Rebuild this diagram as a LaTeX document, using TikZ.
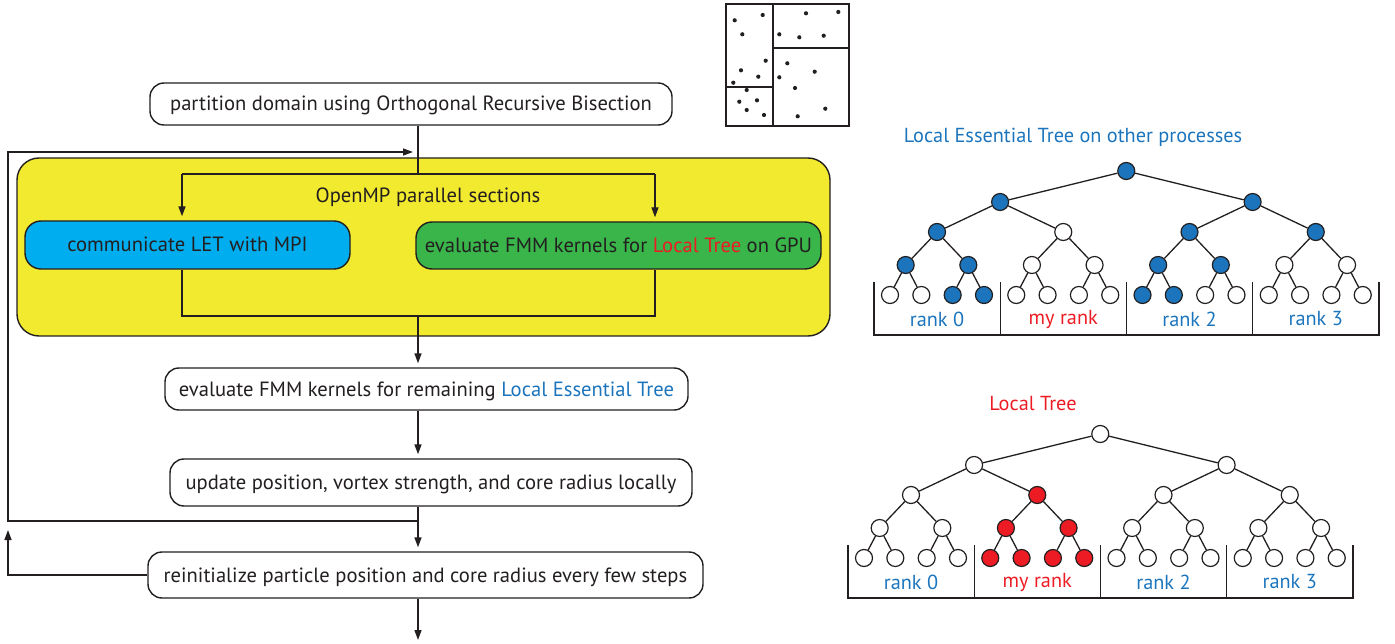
\documentclass[tikz,border=0pt]{standalone}
\usepackage{fontspec}
\setmainfont{PT Sans}
\usetikzlibrary{arrows.meta}
\definecolor{ink}{HTML}{231F20}
\definecolor{ylw}{HTML}{F2EA2E}
\definecolor{cyanbox}{HTML}{00AEEF}
\definecolor{grnbox}{HTML}{39B54A}
\definecolor{bluet}{HTML}{1C75BC}
\definecolor{redt}{HTML}{ED1C24}
\tikzset{
 txt/.style={font=\fontsize{20.6}{24}\selectfont, text=ink},
 flow/.style={txt, draw=ink, line width=1.4pt, rounded corners=14pt, minimum height=42pt, inner sep=0pt, text height=14pt, text depth=0pt},
 conn/.style={draw=ink, line width=1.4pt},
 arr/.style={conn, -{Triangle[length=10pt,width=7pt]}, shorten >=4pt},
 tn/.style={circle, draw=ink, line width=1.2pt, minimum size=17pt, inner sep=0pt},
 te/.style={draw=ink, line width=1.3pt},
 lbl/.style={font=\fontsize{20.3}{24}\selectfont},
 dot/.style={fill=ink}
}
\newcommand\drawtree[8]{%
\begin{scope}[shift={#2}]
 \foreach \i in {0,...,15}{
  \pgfmathtruncatemacro\f{{#8}[\i]}
  \ifnum\f=1 \def\fc{#3}\else\def\fc{white}\fi
  \node[tn, fill=\fc] (#1e\i) at ({890+126.25*floor(\i/4)+31.33*mod(\i,4)},295) {};
 }
 \foreach \i in {0,...,7}{
  \pgfmathtruncatemacro\f{{#7}[\i]}
  \ifnum\f=1 \def\fc{#3}\else\def\fc{white}\fi
  \node[tn, fill=\fc] (#1d\i) at ({890+126.25*floor(\i/2)+31.33*(2*mod(\i,2)+0.5)},265) {};
 }
 \foreach \i in {0,...,3}{
  \pgfmathtruncatemacro\f{{#6}[\i]}
  \ifnum\f=1 \def\fc{#3}\else\def\fc{white}\fi
  \node[tn, fill=\fc] (#1c\i) at ({937+126.25*\i},232) {};
 }
 \foreach \i in {0,1}{
  \pgfmathtruncatemacro\f{{#5}[\i]}
  \ifnum\f=1 \def\fc{#3}\else\def\fc{white}\fi
  \node[tn, fill=\fc] (#1b\i) at ({1000.1+252.5*\i},202) {};
 }
 \node[tn, fill=#4] (#1a0) at (1126.25,171) {};
 \foreach \i in {0,...,15}{\pgfmathtruncatemacro\p{\i/2}\draw[te] (#1d\p) -- (#1e\i);}
 \foreach \i in {0,...,7}{\pgfmathtruncatemacro\p{\i/2}\draw[te] (#1c\p) -- (#1d\i);}
 \foreach \i in {0,...,3}{\pgfmathtruncatemacro\p{\i/2}\draw[te] (#1b\p) -- (#1c\i);}
 \foreach \i in {0,1}{\draw[te] (#1a0) -- (#1b\i);}
 \draw[te] (874,282) -- (874,335) -- (1379,335) -- (1379,282);
 \foreach \k in {1,2,3}{\draw[te] ({874+126.25*\k},282) -- ({874+126.25*\k},335);}
 \node[lbl, text=bluet] (#1l0) at (937,319) {rank 0};
 \node[lbl, text=redt] (#1l1) at (1063.25,319) {my rank};
 \node[lbl, text=bluet] (#1l2) at (1189.5,319) {rank 2};
 \node[lbl, text=bluet] (#1l3) at (1315.75,319) {rank 3};
\end{scope}}
\begin{document}
\begin{tikzpicture}[x=1pt,y=-1pt]
\useasboundingbox (0,0) rectangle (1395,644);
% ORB picture
\draw[ink, line width=1.8pt] (726,4) rectangle (849,126);
\draw[ink, line width=1.8pt] (773,4) -- (773,126) (726,87) -- (773,87) (773,48) -- (849,48);
\foreach \x/\y in {734.7/20.3,762.7/15,742.3/34.3,765.7/60.7,741/70.3,758.3/76.7,733.3/82.7,746.7/90,739.3/101.7,757/100.3,746.7/110,764/115,806/13.3,838.3/12,779.3/34.3,799.3/37.3,823.7/35.7,787.3/63.3,814.7/71.7,779.3/77.3,795/88,825.3/108.7,797.7/116.3}
 {\fill[ink] (\x,\y) circle (2.1pt);}
% flow chart
\node[flow, minimum width=522pt] (b1) at (411,104) {partition domain using Orthogonal Recursive Bisection};
\node[draw=ink, fill=ylw, line width=1.4pt, rounded corners=22pt, minimum width=813pt, minimum height=178pt] (omp) at (423.5,247) {};
\node[txt] (ompt) at (428,197) {OpenMP parallel sections};
\node[flow, fill=cyanbox, rounded corners=16pt, minimum width=325pt, minimum height=48pt] (mpi) at (187.5,245) {communicate LET with MPI};
\node[flow, fill=grnbox, rounded corners=16pt, minimum width=405pt, minimum height=47pt] (gpu) at (618.5,245.5) {evaluate FMM kernels for \textcolor{redt}{Local Tree} on GPU};
\node[flow, minimum width=523pt] (b3) at (426.5,389) {evaluate FMM kernels for remaining \textcolor{bluet}{Local Essential Tree}};
\node[flow, minimum width=522pt, minimum height=47pt] (b4) at (431,482.5) {update position, vortex strength, and core radius locally};
\node[flow, minimum width=555pt, minimum height=46pt] (b5) at (425.5,575) {reinitialize particle position and core radius every few steps};
\coordinate (top) at (418,152);
\coordinate (split) at (418,174);
\coordinate (sl) at (182,174);
\coordinate (sr) at (655,174);
\coordinate (jl) at (182,316);
\coordinate (jr) at (655,316);
\coordinate (jm) at (418,316);
\coordinate (lp) at (418,521);
\coordinate (lpl) at (8,521);
\coordinate (lpt) at (8,152);
\coordinate (rl) at (8,575);
\coordinate (rt) at (8,530);
\coordinate (end) at (418,640);
\draw[conn] (b1.south -| split) -- (split);
\draw[conn] (sl) -- (sr);
\draw[arr] (sl) -- (sl |- mpi.north);
\draw[arr] (sr) -- (sr |- gpu.north);
\draw[conn] (mpi.south -| jl) -- (jl) -- (jr) -- (gpu.south -| jr);
\draw[arr] (jm) -- (jm |- b3.north);
\draw[arr] (b3.south -| jm) -- (b4.north -| jm);
\draw[conn] (b4.south -| jm) -- (lp);
\draw[arr] (lp) -- (b5.north -| lp);
\draw[arr, shorten >=5pt] (lp) -- (lpl) -- (lpt) -- (top);
\draw[arr, shorten >=0pt] (b5.west) -- (rl) -- (rt);
\draw[arr, shorten >=0pt] (b5.south -| jm) -- (end);
% trees
\node[lbl, text=bluet] (t1) at (1073,137) {Local Essential Tree on other processes};
\node[lbl, text=redt] (t2) at (1033,404) {Local Tree};
\drawtree{a}{(0,0)}{bluet}{bluet}{1,1}{1,0,1,1}{1,1,0,0,1,1,0,0}{0,0,1,1,0,0,0,0,1,1,0,0,0,0,0,0}
\drawtree{k}{(-26,263)}{redt}{white}{0,0}{0,1,0,0}{0,0,1,1,0,0,0,0}{0,0,0,0,1,1,1,1,0,0,0,0,0,0,0,0}
\end{tikzpicture}
\end{document}
